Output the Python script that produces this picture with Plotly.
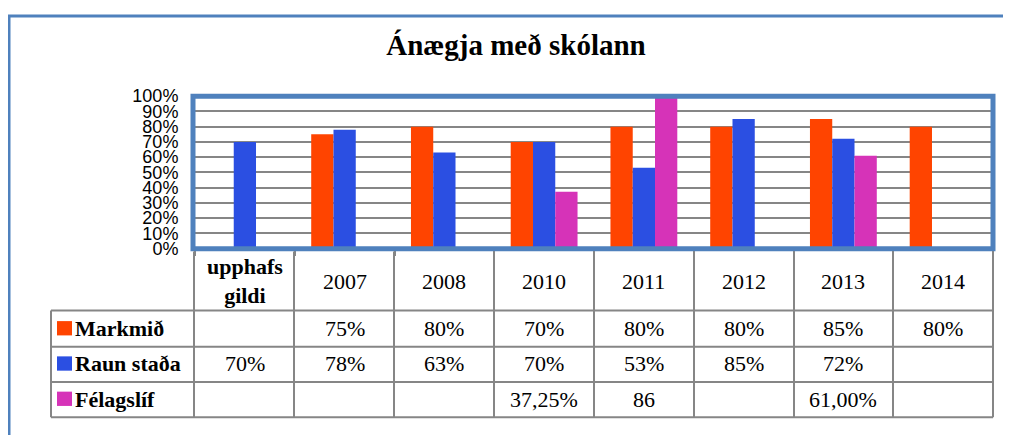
import plotly.graph_objects as go

# data
categories = ["upphafs gildi", "2007", "2008", "2010", "2011", "2012", "2013", "2014"]
header_labels = ["<b>upphafs<br>gildi</b>", "2007", "2008", "2010", "2011", "2012", "2013", "2014"]
series_names = ["Markmið", "Raun staða", "Félagslíf"]
markmid = [None, 0.75, 0.80, 0.70, 0.80, 0.80, 0.85, 0.80]
raun_stada = [0.70, 0.78, 0.63, 0.70, 0.53, 0.85, 0.72, None]
felagslif = [None, None, None, 0.3725, 86, None, 0.61, None]
markmid_txt = ["", "75%", "80%", "70%", "80%", "80%", "85%", "80%"]
raun_txt = ["70%", "78%", "63%", "70%", "53%", "85%", "72%", ""]
felag_txt = ["", "", "", "37,25%", "86", "", "61,00%", ""]
colors = ["#ff4400", "#2b4fe2", "#d633b8"]

# the page body adds an 8px margin, so the figure is a bit smaller and shifted
OFF = 8
W, H = 1011 - OFF, 435 - OFF


def px(x):
    return (x - OFF) / W


def py(y):
    return 1 - (y - OFF) / H


fig = go.Figure()
for name, vals, col in zip(series_names, [markmid, raun_stada, felagslif], colors):
    fig.add_trace(go.Bar(x=categories, y=vals, name=name, marker_color=col,
                         marker_line_width=0))

serif = "Liberation Serif, Times New Roman, serif"
grid = "#868686"
frame = "#4f81bd"

shapes = []
# outer chart frame
shapes.append(dict(type="rect", xref="paper", yref="paper", x0=px(9), x1=px(1030),
                   y0=py(6), y1=py(460), line=dict(color=frame, width=3)))
# plot area frame
shapes.append(dict(type="rect", xref="paper", yref="paper", x0=px(193), x1=px(993),
                   y0=py(250), y1=py(90), line=dict(color=frame, width=5)))

# data table lines
col_edges = [194, 294, 394, 494, 594, 694, 794, 893, 993]
row_edges = [315, 353, 390, 427]
for x in col_edges:
    shapes.append(dict(type="line", xref="paper", yref="paper", x0=px(x), x1=px(x),
                       y0=py(253), y1=py(427), line=dict(color=grid, width=2)))
shapes.append(dict(type="line", xref="paper", yref="paper", x0=px(51), x1=px(51),
                   y0=py(315), y1=py(427), line=dict(color=grid, width=2)))
for y in row_edges:
    shapes.append(dict(type="line", xref="paper", yref="paper", x0=px(51), x1=px(993),
                       y0=py(y), y1=py(y), line=dict(color=grid, width=2)))

annotations = []
# on a category axis annotations are placed by category index
for i, lab in enumerate(header_labels):
    annotations.append(dict(x=i, xref="x", y=py(284), yref="paper", text=lab,
                            xanchor="center", yanchor="middle", showarrow=False,
                            font=dict(family=serif, size=22, color="black")))

row_mid = [334, 371, 408]
for name, col, txts, ym in zip(series_names, colors, [markmid_txt, raun_txt, felag_txt], row_mid):
    shapes.append(dict(type="rect", xref="paper", yref="paper", x0=px(57), x1=px(72),
                       y0=py(ym + 7), y1=py(ym - 8), fillcolor=col, line=dict(width=0)))
    annotations.append(dict(x=px(73), xref="paper", y=py(ym), yref="paper", text="<b>" + name + "</b>",
                            xanchor="left", yanchor="middle", showarrow=False,
                            font=dict(family=serif, size=22, color="black")))
    for i, t in enumerate(txts):
        if t:
            annotations.append(dict(x=i, xref="x", y=py(ym), yref="paper", text=t,
                                    xanchor="center", yanchor="middle", showarrow=False,
                                    font=dict(family=serif, size=22, color="black")))

fig.update_layout(
    width=W, height=H, autosize=False,
    margin=dict(l=0, r=0, t=0, b=0),
    paper_bgcolor="white", plot_bgcolor="white",
    showlegend=False,
    barmode="group", bargap=0.33, bargroupgap=0,
    title=dict(text="<b>Ánægja með skólann</b>", x=px(516), xanchor="center",
               y=py(45), yanchor="middle", font=dict(family=serif, size=29, color="black")),
    xaxis=dict(type="category", domain=[px(195), px(993)], range=[-0.5, len(categories) - 0.5],
               showticklabels=False,
               ticks="outside", tickson="boundaries", ticklen=6, tickcolor=grid, tickwidth=2,
               showgrid=False, showline=False, fixedrange=True),
    yaxis=dict(domain=[py(250), py(90)], range=[0, 1], dtick=0.1, tickformat=".0%",
               showgrid=True, gridcolor=grid, gridwidth=2, zeroline=False,
               showline=True, linecolor="black", linewidth=1,
               ticklabelstandoff=12,
               tickfont=dict(family="Liberation Sans, Arial, sans-serif", size=18, color="black")),
    shapes=shapes,
    annotations=annotations,
)

fig.write_html("out.html")
